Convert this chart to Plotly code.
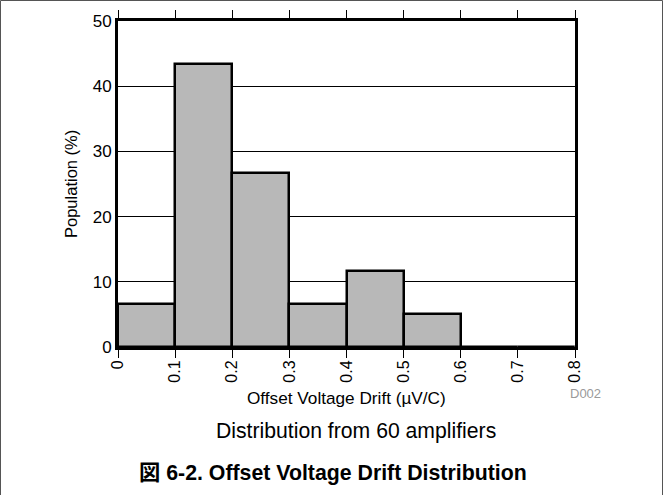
import plotly.graph_objects as go

# Data
bin_starts = [0.0, 0.1, 0.2, 0.3, 0.4, 0.5, 0.6, 0.7]
bin_width = 0.1
population = [6.67, 43.33, 26.67, 6.67, 11.67, 5.0, 0.0, 0.0]
x_ticks = [0, 0.1, 0.2, 0.3, 0.4, 0.5, 0.6, 0.7, 0.8]
x_tick_labels = ["0", "0.1", "0.2", "0.3", "0.4", "0.5", "0.6", "0.7", "0.8"]
y_ticks = [0, 10, 20, 30, 40, 50]

FONT = "Liberation Sans, Arial, Noto Sans CJK JP, sans-serif"

W, H = 663, 495
L, R, T, B = 118, 88, 21, 148
PW, PH = W - L - R, H - T - B


def px(x):
    return (x - L) / PW


def py(y):
    return (H - B - y) / PH


centers = [s + bin_width / 2 for s in bin_starts]

fig = go.Figure()
fig.add_trace(go.Bar(
    x=centers, y=population, width=[bin_width] * len(centers),
    marker=dict(color="#b8b8b8", line=dict(color="black", width=2.5)),
    hoverinfo="skip",
))
# invisible trace so the top tick axis is drawn
fig.add_trace(go.Scatter(
    x=[x_ticks[0]], y=[y_ticks[0]], xaxis="x2", mode="markers",
    marker=dict(opacity=0), hoverinfo="skip",
))

fig.update_layout(
    width=W, height=H,
    margin=dict(l=L, r=R, t=T, b=B, pad=0),
    paper_bgcolor="white", plot_bgcolor="white",
    showlegend=False,
    font=dict(family=FONT, color="black"),
    xaxis=dict(
        range=[0, 0.8], tickmode="array", tickvals=x_ticks, ticktext=x_tick_labels,
        tickangle=-90, ticks="outside", ticklen=8, tickwidth=1.2, tickcolor="black",
        ticklabelstandoff=-4,
        showline=True, linecolor="black", linewidth=3, mirror=True,
        showgrid=False, zeroline=False, tickfont=dict(size=16, family=FONT),
        fixedrange=True,
    ),
    xaxis2=dict(
        range=[0, 0.8], overlaying="x", side="top", tickmode="array", tickvals=x_ticks,
        ticks="outside", ticklen=8, tickwidth=1.2, tickcolor="black",
        showticklabels=False, showline=True, linecolor="black", linewidth=3,
        showgrid=False, zeroline=False, fixedrange=True,
    ),
    yaxis=dict(
        range=[0, 50], tickmode="array", tickvals=y_ticks,
        ticks="", showline=True, linecolor="black", linewidth=3, mirror=True,
        showgrid=True, gridcolor="black", gridwidth=1, zeroline=False,
        tickfont=dict(size=17, family=FONT), fixedrange=True,
    ),
    bargap=0,
)

annotations = [
    dict(text="Offset Voltage Drift (µV/C)", x=px(346), y=py(398), font=dict(size=17.2)),
    dict(text="D002", x=px(585), y=py(393), font=dict(size=13, color="#9a9a9a")),
    dict(text="Distribution from 60 amplifiers", x=px(356), y=py(431), font=dict(size=21.2)),
    dict(text="<b>図 6-2. Offset Voltage Drift Distribution</b>", x=px(332.5), y=py(473),
         font=dict(size=21.3, family="Liberation Sans, Noto Sans CJK JP, sans-serif")),
    dict(text="Population (%)", x=px(71), y=py(184), textangle=-90, font=dict(size=16.5)),
]
for a in annotations:
    a.update(xref="paper", yref="paper", showarrow=False, xanchor="center", yanchor="middle")
fig.update_layout(annotations=annotations)

# page border (top, left, right)
border = dict(color="#555555", width=1)
fig.add_shape(type="line", xref="paper", yref="paper", x0=px(0.5), x1=px(662.5), y0=py(0.5), y1=py(0.5), line=border)
fig.add_shape(type="line", xref="paper", yref="paper", x0=px(0.5), x1=px(0.5), y0=py(0.5), y1=py(495), line=border)
fig.add_shape(type="line", xref="paper", yref="paper", x0=px(662.5), x1=px(662.5), y0=py(0.5), y1=py(495), line=border)

fig.write_html("out.html", config={"displayModeBar": False},
               post_script="document.body.style.margin='0';document.body.style.overflow='hidden';")
